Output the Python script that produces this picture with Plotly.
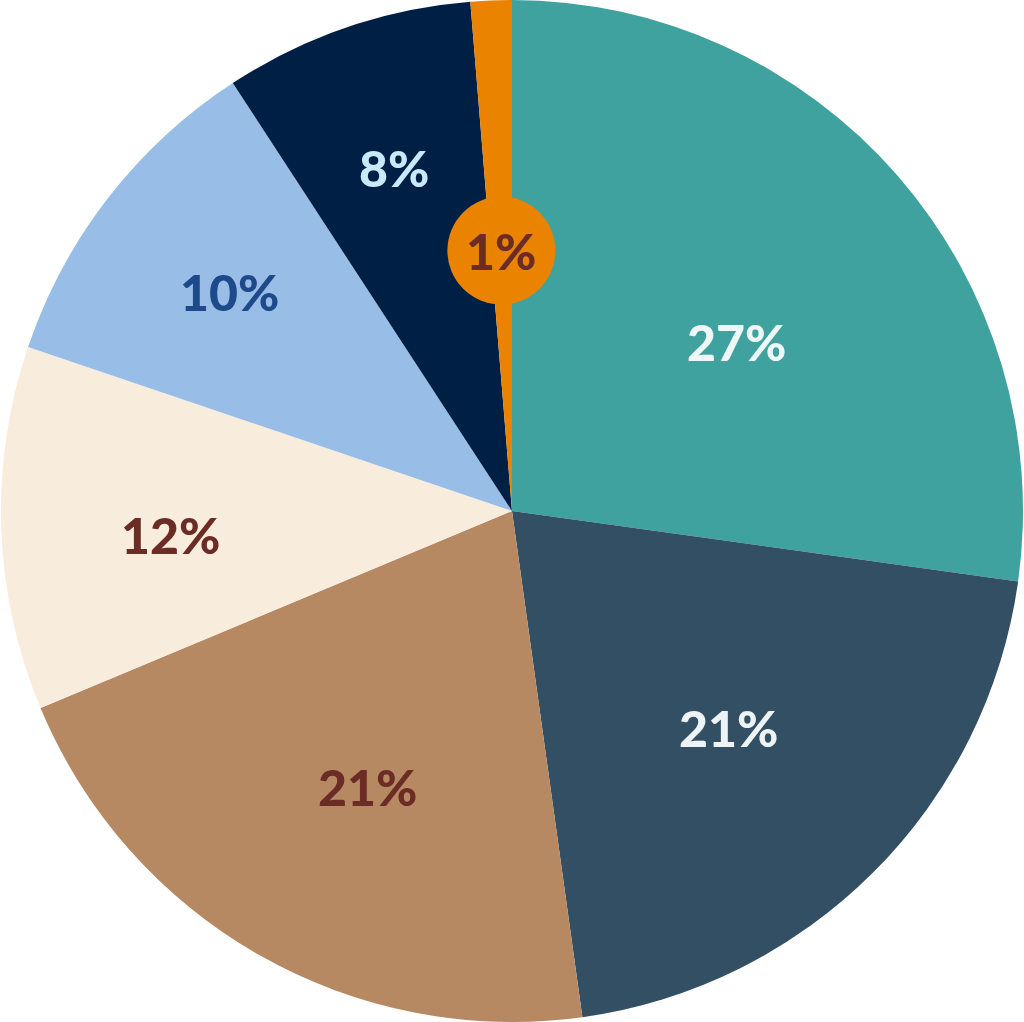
import math
import plotly.graph_objects as go

# slice values (percent), clockwise from 12 o'clock
labels = ["A", "B", "C", "D", "E", "F", "G"]
values = [27.2, 20.6, 20.9, 11.5, 10.6, 7.9, 1.3]
label_text = ["27%", "21%", "21%", "12%", "10%", "8%", "1%"]

colors = ["#40A29F", "#324F64", "#B78963", "#F8ECDC", "#98BDE6", "#001F45", "#E98300"]
text_colors = ["#EEF7F6", "#EEF4F6", "#6B2C26", "#6B2C26", "#1F4A8A", "#C8E9FA", "#6B2C26"]
label_radius = [0.55, 0.60, 0.61, 0.67, 0.70, 0.71, 0.51]
# small nudge of the label angle (degrees), matches the original layout
label_turn = [4, 0, -2, -2, 0, 0, 0]

W, H = 1024, 1022
R = min(W, H) / 2

fig = go.Figure(
    go.Pie(
        labels=labels,
        values=values,
        sort=False,
        direction="clockwise",
        rotation=0,
        marker=dict(colors=colors, line=dict(width=0)),
        textinfo="none",
        hoverinfo="skip",
        showlegend=False,
    )
)

# put labels at the slice midpoints
total = sum(values)
cum = 0
annotations = []
shapes = []
for v, txt, tc, rf, turn in zip(values, label_text, text_colors, label_radius, label_turn):
    mid = (cum + v / 2) / total * 2 * math.pi + math.radians(turn)
    cum += v
    px = 0.5 + rf * R * math.sin(mid) / W
    py = 0.5 + rf * R * math.cos(mid) / H
    if v < 3:
        # small slice gets a circle badge
        rx, ry = 54 / W, 54 / H
        shapes.append(dict(
            type="circle", xref="paper", yref="paper",
            x0=px - rx, x1=px + rx, y0=py - ry, y1=py + ry,
            fillcolor=colors[-1], line=dict(width=0), layer="above",
        ))
    annotations.append(dict(
        x=px, y=py, xref="paper", yref="paper",
        text=txt, showarrow=False,
        font=dict(family="Lato", size=50, color=tc, weight=900),
        xanchor="center", yanchor="middle",
    ))

fig.update_layout(
    width=W,
    height=H,
    margin=dict(l=0, r=0, t=0, b=0),
    paper_bgcolor="white",
    annotations=annotations,
    shapes=shapes,
)

# drop the default page margin so the figure sits at 0,0
fig.write_html(
    "out.html",
    config={"displayModeBar": False},
    post_script="document.body.style.margin='0';",
)
